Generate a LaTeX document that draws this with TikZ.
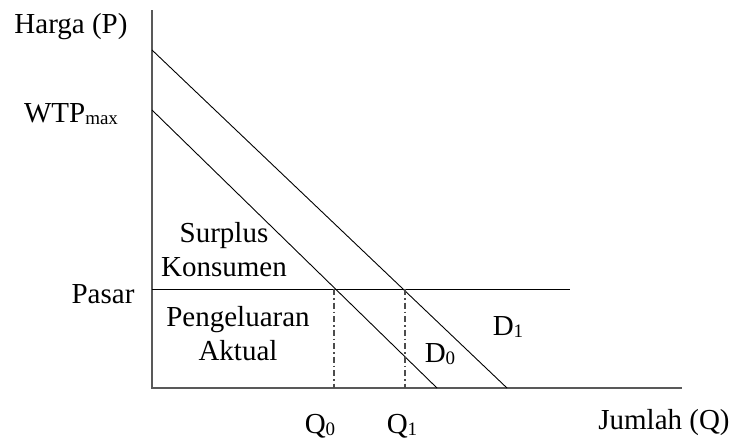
\documentclass[tikz,border=0pt]{standalone}
\usepackage{fontspec}
\setmainfont{Liberation Serif}
\usepackage{tikz}
\usetikzlibrary{positioning, calc}
\newcommand{\lowidx}[1]{\raisebox{-2pt}{\fontsize{19}{19}\selectfont #1}}
\tikzstyle{axis} = [draw=black!65, line width=1.4pt]
\tikzstyle{demand} = [draw=black, line width=0.9pt]
\tikzstyle{guide} = [draw=black!70, line width=1.2pt, dash pattern=on 6pt off 3pt on 1.5pt off 3pt]
\tikzstyle{lbl} = [inner sep=0pt, anchor=base, font=\fontsize{29}{34}\selectfont]
\tikzstyle{area} = [inner sep=0pt, align=center, font=\fontsize{29}{34}\selectfont]

\begin{document}
\begin{tikzpicture}[x=1pt, y=-1pt]
    \useasboundingbox (0,0) rectangle (730,440);
    % Points
    \coordinate (origin) at (152,388);
    \coordinate (ptop) at (152,10);
    \coordinate (qend) at (682,388);
    \coordinate (d1top) at (152,50);
    \coordinate (d1bot) at (507,388);
    \coordinate (d0top) at (152,110);
    \coordinate (d0bot) at (437,388);
    \coordinate (pleft) at (152,289);
    \coordinate (pright) at (570,289);
    \coordinate (e0) at (334,289);
    \coordinate (e1) at (405,289);
    \coordinate (q0) at (334,388);
    \coordinate (q1) at (405,388);

    % Labels
    \node (harga) [lbl] at (71,33) {Harga (P)};
    \node (wtp) [lbl] at (71,122) {WTP\lowidx{max}};
    \node (pasar) [lbl] at (103,303) {Pasar};
    \node (surplus) [area] at (224,250) {Surplus\\Konsumen};
    \node (belanja) [area] at (238,334) {Pengeluaran\\Aktual};
    \node (dnol) [lbl] at (440,362) {D\lowidx{0}};
    \node (dsatu) [lbl] at (508,335) {D\lowidx{1}};
    \node (qnol) [lbl] at (320,433) {Q\lowidx{0}};
    \node (qsatu) [lbl] at (402,433) {Q\lowidx{1}};
    \node (jumlah) [lbl] at (664,429) {Jumlah (Q)};

    % Lines
    \draw [axis] (ptop) -- (origin) -- (qend);
    \draw [demand] (d1top) -- (d1bot);
    \draw [demand] (d0top) -- (d0bot);
    \draw [demand] (pleft) -- (pright);
    \draw [guide] (e0) -- (q0);
    \draw [guide] (e1) -- (q1);
\end{tikzpicture}
\end{document}
